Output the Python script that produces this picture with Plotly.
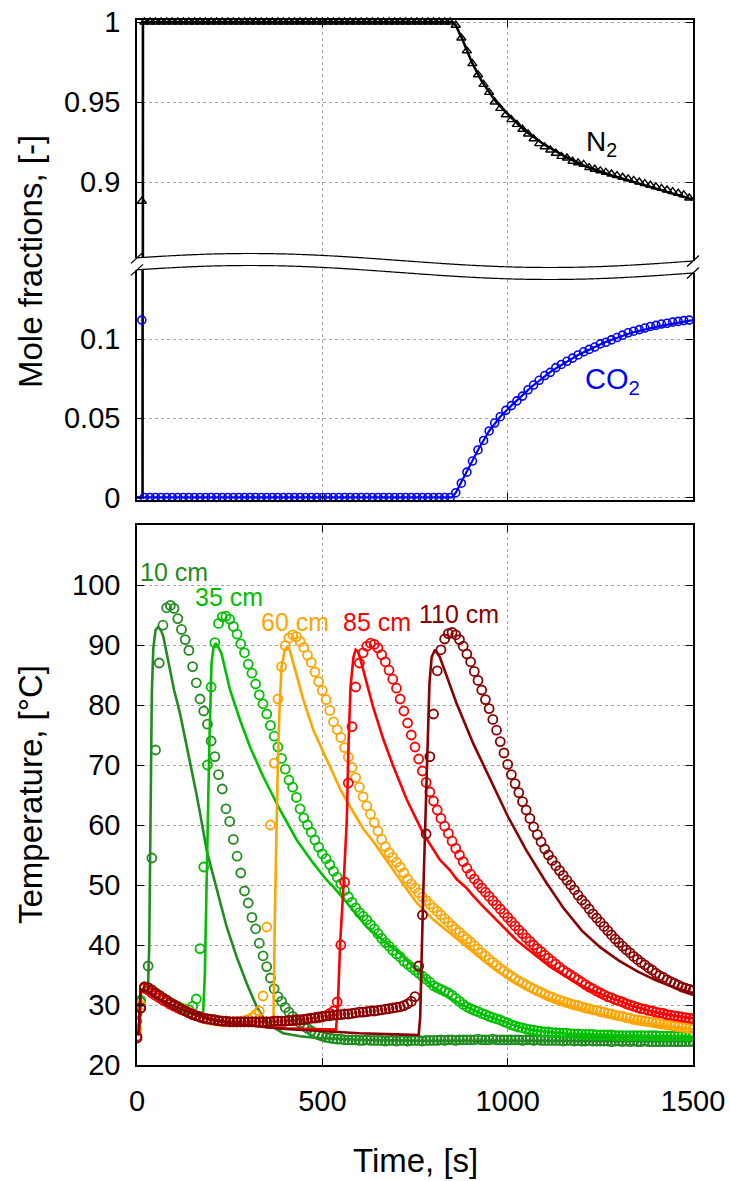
import math
import plotly.graph_objects as go

# ---------------- data ----------------
t_gas = [13, 20, 35, 50, 65, 80, 95, 110, 125, 140,
         155, 170, 185, 200, 215, 230, 245, 260, 275, 290,
         305, 320, 335, 350, 365, 380, 395, 410, 425, 440,
         455, 470, 485, 500, 515, 530, 545, 560, 575, 590,
         605, 620, 635, 650, 665, 680, 695, 710, 725, 740,
         755, 770, 785, 800, 815, 830, 845, 860, 875, 890,
         905, 920, 935, 950, 965, 980, 995, 1010, 1025, 1040,
         1055, 1070, 1085, 1100, 1115, 1130, 1145, 1160, 1175, 1190,
         1205, 1220, 1235, 1250, 1265, 1280, 1295, 1310, 1325, 1340,
         1355, 1370, 1385, 1400, 1415, 1430, 1445, 1460, 1475, 1490]

n2_exp = [0.888, 1.0, 1.0, 1.0, 1.0, 1.0, 1.0, 1.0, 1.0, 1.0,
          1.0, 1.0, 1.0, 1.0, 1.0, 1.0, 1.0, 1.0, 1.0, 1.0,
          1.0, 1.0, 1.0, 1.0, 1.0, 1.0, 1.0, 1.0, 1.0, 1.0,
          1.0, 1.0, 1.0, 1.0, 1.0, 1.0, 1.0, 1.0, 1.0, 1.0,
          1.0, 1.0, 1.0, 1.0, 1.0, 1.0, 1.0, 1.0, 1.0, 1.0,
          1.0, 1.0, 1.0, 1.0, 1.0, 1.0, 1.0, 0.998, 0.990, 0.982,
          0.974, 0.967, 0.961, 0.956, 0.950, 0.946, 0.942, 0.939, 0.936, 0.933,
          0.930, 0.927, 0.924, 0.922, 0.920, 0.918, 0.916, 0.915, 0.913, 0.912,
          0.911, 0.909, 0.908, 0.907, 0.906, 0.905, 0.904, 0.903, 0.902, 0.901,
          0.900, 0.899, 0.898, 0.897, 0.896, 0.895, 0.894, 0.893, 0.892, 0.890]

co2_exp = [0.112, 0.0, 0.0, 0.0, 0.0, 0.0, 0.0, 0.0, 0.0, 0.0,
           0.0, 0.0, 0.0, 0.0, 0.0, 0.0, 0.0, 0.0, 0.0, 0.0,
           0.0, 0.0, 0.0, 0.0, 0.0, 0.0, 0.0, 0.0, 0.0, 0.0,
           0.0, 0.0, 0.0, 0.0, 0.0, 0.0, 0.0, 0.0, 0.0, 0.0,
           0.0, 0.0, 0.0, 0.0, 0.0, 0.0, 0.0, 0.0, 0.0, 0.0,
           0.0, 0.0, 0.0, 0.0, 0.0, 0.0, 0.0, 0.003, 0.009, 0.016,
           0.023, 0.030, 0.036, 0.042, 0.047, 0.051, 0.055, 0.058, 0.061, 0.064,
           0.068, 0.071, 0.074, 0.077, 0.079, 0.082, 0.084, 0.086, 0.088, 0.090,
           0.092, 0.0935, 0.095, 0.097, 0.098, 0.0995, 0.101, 0.1025, 0.104, 0.105,
           0.106, 0.107, 0.108, 0.1087, 0.1095, 0.110, 0.1107, 0.1112, 0.1117, 0.112]

t_n2_model = [0, 15, 16, 850, 860, 880, 903, 930, 966, 1002, 1047, 1101, 1154, 1208, 1281, 1352, 1424, 1500]
n2_model = [0.0, 0.0, 1.0, 1.0, 0.998, 0.988, 0.975, 0.963, 0.951, 0.942, 0.932, 0.923, 0.916, 0.910, 0.904, 0.899, 0.894, 0.889]

t_co2_model = [0, 850, 860, 880, 900, 920, 950, 980, 1010, 1065, 1119, 1190, 1262, 1334, 1406, 1500]
co2_model = [0.0, 0.0, 0.003, 0.012, 0.021, 0.030, 0.042, 0.051, 0.058, 0.070, 0.080, 0.090, 0.098, 0.104, 0.108, 0.112]

t_exp = [0, 10, 20, 30, 40, 50, 60, 70, 80, 90,
         100, 110, 120, 130, 140, 150, 160, 170, 180, 190,
         200, 210, 220, 230, 240, 250, 260, 270, 280, 290,
         300, 310, 320, 330, 340, 350, 360, 370, 380, 390,
         400, 410, 420, 430, 440, 450, 460, 470, 480, 490,
         500, 510, 520, 530, 540, 550, 560, 570, 580, 590,
         600, 610, 620, 630, 640, 650, 660, 670, 680, 690,
         700, 710, 720, 730, 740, 750, 760, 770, 780, 790,
         800, 810, 820, 830, 840, 850, 860, 870, 880, 890,
         900, 910, 920, 930, 940, 950, 960, 970, 980, 990,
         1000, 1010, 1020, 1030, 1040, 1050, 1060, 1070, 1080, 1090,
         1100, 1110, 1120, 1130, 1140, 1150, 1160, 1170, 1180, 1190,
         1200, 1210, 1220, 1230, 1240, 1250, 1260, 1270, 1280, 1290,
         1300, 1310, 1320, 1330, 1340, 1350, 1360, 1370, 1380, 1390,
         1400, 1410, 1420, 1430, 1440, 1450, 1460, 1470, 1480, 1490,
         1500]

T10_exp = [28.5, 30.5, 33.0, 36.5, 54.5, 72.5, 87.0, 93.3, 96.2, 96.6,
           96.1, 94.4, 92.6, 90.9, 89.1, 86.4, 83.7, 81.0, 79.0, 76.8,
           74.0, 71.4, 68.4, 66.0, 62.7, 60.6, 57.6, 54.8, 52.0, 49.0,
           47.0, 44.6, 42.7, 40.3, 38.2, 36.4, 34.5, 32.7, 31.4, 30.6,
           29.6, 28.8, 28.1, 27.6, 27.0, 26.5, 26.1, 25.7, 25.3, 25.0,
           24.8, 24.6, 24.5, 24.4, 24.3, 24.3, 24.2, 24.2, 24.2, 24.2,
           24.1, 24.1, 24.2, 24.1, 24.1, 24.1, 24.1, 24.0, 24.1, 24.1,
           24.0, 24.1, 24.1, 24.0, 24.1, 24.1, 24.1, 24.0, 24.1, 24.1,
           24.1, 24.1, 24.2, 24.1, 24.2, 24.2, 24.1, 24.2, 24.2, 24.2,
           24.2, 24.2, 24.3, 24.2, 24.2, 24.2, 24.3, 24.2, 24.2, 24.2,
           24.2, 24.2, 24.2, 24.2, 24.1, 24.2, 24.2, 24.1, 24.2, 24.1,
           24.1, 24.1, 24.1, 24.1, 24.1, 24.0, 24.1, 24.1, 24.0, 24.1,
           24.0, 24.0, 24.1, 24.0, 24.0, 24.0, 24.0, 24.0, 23.9, 24.0,
           24.0, 23.9, 24.0, 23.9, 24.0, 23.9, 23.9, 24.0, 23.9, 23.9,
           23.9, 23.9, 23.9, 23.9, 23.9, 23.9, 23.9, 23.9, 23.9, 23.9,
           23.9]

T35_exp = [27.3, 30.8, 32.8, 32.6, 32.3, 32.0, 31.6, 31.2, 30.8, 30.4,
           30.1, 29.8, 29.5, 29.3, 29.2, 29.8, 31.0, 39.4, 53.0, 70.0,
           83.0, 90.4, 93.6, 94.7, 94.8, 94.3, 93.1, 91.8, 90.2, 88.7,
           86.8, 85.3, 83.5, 81.7, 80.2, 78.5, 76.6, 74.8, 73.0, 71.1,
           69.3, 67.5, 66.3, 64.6, 62.7, 61.2, 60.0, 58.8, 57.5, 56.3,
           55.2, 54.4, 53.4, 52.3, 51.3, 50.2, 49.1, 48.0, 47.1, 46.2,
           45.4, 44.8, 44.2, 43.4, 42.7, 41.9, 41.1, 40.4, 39.8, 39.1,
           38.5, 38.0, 37.3, 36.8, 36.3, 35.8, 35.3, 34.8, 34.3, 33.8,
           33.2, 32.9, 32.6, 32.3, 32.0, 31.6, 31.1, 30.6, 30.1, 29.7,
           29.4, 29.1, 28.9, 28.6, 28.4, 28.1, 27.9, 27.7, 27.5, 27.2,
           27.0, 26.7, 26.5, 26.3, 26.2, 26.0, 25.9, 25.8, 25.7, 25.6,
           25.5, 25.5, 25.4, 25.4, 25.3, 25.3, 25.3, 25.2, 25.2, 25.2,
           25.1, 25.1, 25.1, 25.1, 25.0, 25.0, 25.0, 25.0, 25.0, 24.9,
           24.9, 24.9, 24.9, 24.9, 24.9, 24.9, 24.9, 24.9, 24.9, 24.9,
           24.9, 24.8, 24.8, 24.8, 24.8, 24.8, 24.8, 24.8, 24.8, 24.8,
           24.8]

T60_exp = [26.0, 30.0, 32.8, 32.6, 32.3, 32.0, 31.6, 31.2, 30.8, 30.4,
           30.0, 29.7, 29.4, 29.1, 28.8, 28.5, 28.2, 28.0, 27.8, 27.6,
           27.5, 27.4, 27.3, 27.3, 27.2, 27.2, 27.2, 27.2, 27.3, 27.4,
           27.6, 27.9, 28.4, 29.0, 31.5, 43.0, 60.0, 70.3, 81.0, 86.4,
           89.9, 91.2, 91.7, 91.4, 90.6, 89.6, 88.3, 87.1, 85.5, 83.9,
           82.4, 80.9, 79.1, 77.2, 75.9, 74.6, 72.9, 71.3, 69.6, 67.9,
           66.3, 64.7, 63.2, 61.8, 60.4, 59.0, 57.6, 56.4, 55.4, 54.6,
           53.8, 53.0, 52.0, 51.0, 50.2, 49.5, 48.7, 48.0, 47.4, 46.8,
           46.2, 45.6, 45.0, 44.4, 43.8, 43.2, 42.6, 42.1, 41.5, 41.0,
           40.5, 39.9, 39.3, 38.7, 38.2, 37.6, 37.1, 36.6, 36.1, 35.7,
           35.2, 34.8, 34.4, 34.0, 33.7, 33.3, 33.0, 32.7, 32.4, 32.1,
           31.8, 31.5, 31.3, 31.0, 30.8, 30.6, 30.4, 30.2, 30.0, 29.9,
           29.7, 29.5, 29.4, 29.2, 29.1, 28.9, 28.8, 28.6, 28.5, 28.3,
           28.2, 28.1, 27.9, 27.8, 27.6, 27.5, 27.4, 27.3, 27.2, 27.1,
           27.0, 26.9, 26.8, 26.7, 26.6, 26.5, 26.4, 26.3, 26.2, 26.1,
           26.0]

T85_exp = [24.8, 29.5, 32.8, 32.5, 32.0, 31.6, 31.2, 30.8, 30.5, 30.1,
           29.8, 29.5, 29.2, 29.0, 28.7, 28.5, 28.2, 28.0, 27.8, 27.7,
           27.6, 27.5, 27.4, 27.3, 27.3, 27.2, 27.2, 27.2, 27.2, 27.2,
           27.2, 27.2, 27.2, 27.2, 27.2, 27.2, 27.2, 27.3, 27.3, 27.3,
           27.3, 27.4, 27.4, 27.5, 27.5, 27.6, 27.7, 27.8, 27.8, 27.9,
           28.0, 28.2, 28.6, 29.0, 30.5, 40.0, 50.5, 67.0, 76.4, 83.0,
           87.0, 88.7, 89.8, 90.3, 90.1, 89.5, 88.4, 87.2, 85.8, 84.3,
           82.8, 81.0, 79.0, 77.0, 75.0, 73.0, 71.0, 69.0, 67.1, 65.5,
           64.0, 62.5, 61.1, 59.8, 58.6, 57.3, 56.1, 55.0, 53.9, 52.8,
           51.8, 51.0, 50.2, 49.5, 48.8, 48.1, 47.4, 46.7, 46.0, 45.3,
           44.6, 43.9, 43.2, 42.5, 41.9, 41.2, 40.6, 40.0, 39.4, 38.9,
           38.3, 37.8, 37.3, 36.8, 36.3, 35.8, 35.4, 35.0, 34.6, 34.2,
           33.8, 33.4, 33.0, 32.7, 32.3, 32.0, 31.7, 31.4, 31.2, 30.9,
           30.7, 30.5, 30.2, 30.0, 29.8, 29.6, 29.4, 29.3, 29.1, 29.0,
           28.8, 28.7, 28.6, 28.4, 28.3, 28.2, 28.1, 28.0, 27.9, 27.8,
           27.7]

T110_exp = [24.5, 29.5, 33.0, 32.9, 32.5, 32.0, 31.6, 31.2, 30.8, 30.4,
            30.0, 29.7, 29.3, 29.0, 28.7, 28.4, 28.2, 28.0, 27.8, 27.7,
            27.6, 27.5, 27.4, 27.3, 27.3, 27.2, 27.2, 27.2, 27.2, 27.2,
            27.2, 27.2, 27.2, 27.2, 27.2, 27.2, 27.2, 27.3, 27.3, 27.3,
            27.3, 27.4, 27.4, 27.5, 27.5, 27.6, 27.7, 27.8, 27.9, 28.0,
            28.1, 28.2, 28.2, 28.3, 28.4, 28.4, 28.5, 28.5, 28.6, 28.7,
            28.8, 28.8, 28.9, 29.0, 29.0, 29.1, 29.2, 29.3, 29.4, 29.5,
            29.6, 29.7, 29.9, 30.2, 30.6, 31.4, 36.5, 45.0, 58.5, 71.4,
            78.5, 85.7, 89.2, 91.0, 91.9, 92.1, 91.7, 90.9, 89.8, 88.5,
            87.2, 85.6, 84.1, 82.5, 80.9, 79.4, 77.6, 75.8, 73.9, 72.0,
            70.1, 68.4, 66.9, 65.4, 63.9, 62.5, 61.1, 59.7, 58.4, 57.2,
            56.0, 55.0, 54.1, 53.2, 52.4, 51.6, 50.8, 50.0, 49.2, 48.3,
            47.5, 46.8, 46.0, 45.2, 44.5, 43.8, 43.1, 42.4, 41.7, 41.0,
            40.4, 39.8, 39.2, 38.7, 38.1, 37.6, 37.1, 36.7, 36.2, 35.8,
            35.3, 34.9, 34.6, 34.2, 33.9, 33.6, 33.3, 33.0, 32.8, 32.6,
            32.4]

t_m10 = [0, 5, 10, 20, 30, 33, 36, 40, 44, 50, 57, 65, 71, 80, 89, 100, 116, 130, 143, 160,
         170, 188, 200, 215, 242, 269, 296, 323, 350, 394, 440, 485, 600, 800, 1000, 1200, 1500]
T10_model = [25.0, 25.5, 32.5, 32.8, 33.2, 40.0, 62.0, 82.0, 89.5, 92.5, 93.0, 92.4, 91.4, 88.8, 85.8, 82.5, 78.6, 74.5, 70.3, 65.3,
             62.0, 55.8, 52.9, 49.2, 43.0, 38.0, 33.6, 29.7, 27.0, 25.3, 24.8, 24.5, 24.2, 24.0, 24.0, 24.0, 24.0]

t_m35 = [0, 5, 10, 20, 50, 100, 150, 178, 183, 188, 192, 195, 201, 206, 212, 220, 228, 251, 278, 305,
         341, 386, 431, 476, 512, 530, 575, 620, 665, 710, 755, 800, 844, 889, 934, 979, 1024, 1069, 1114, 1159,
         1204, 1300, 1400, 1500]
T35_model = [25.0, 25.5, 32.5, 32.5, 31.2, 29.8, 28.6, 28.2, 35.0, 52.0, 65.0, 73.0, 87.0, 89.4, 90.3, 89.6, 88.6, 82.5, 77.5, 73.0,
             68.0, 62.5, 57.5, 53.6, 50.8, 49.7, 46.4, 43.0, 40.7, 38.6, 35.7, 33.0, 31.2, 29.7, 28.4, 27.5, 26.5, 25.8, 25.5, 25.2,
             25.1, 24.9, 24.8, 24.7]

t_m60 = [0, 5, 10, 20, 50, 100, 150, 200, 250, 300, 350, 368, 372, 376, 379, 384, 390, 399, 405, 412,
         422, 435, 449, 476, 500, 521, 548, 566, 611, 637, 656, 692, 710, 728, 755, 800, 844, 889, 934, 979,
         1024, 1069, 1114, 1159, 1204, 1249, 1294, 1339, 1384, 1429, 1500]
T60_model = [25.0, 25.5, 32.5, 32.5, 31.2, 29.8, 28.6, 27.6, 27.0, 26.6, 26.4, 26.6, 45.0, 60.0, 67.5, 78.6, 86.4, 89.2, 89.7, 89.2,
             87.0, 84.0, 80.8, 75.8, 72.5, 69.7, 66.0, 64.0, 59.3, 57.3, 55.6, 52.4, 50.8, 49.3, 47.0, 44.2, 42.0, 39.7, 37.4, 35.3,
             33.7, 32.0, 31.0, 30.0, 29.2, 28.4, 27.8, 27.2, 26.8, 26.4, 25.9]

t_m85 = [0, 5, 10, 20, 50, 100, 150, 200, 250, 300, 350, 400, 450, 500, 537, 542, 548, 557, 566, 570,
         576, 584, 590, 596, 602, 620, 637, 665, 692, 728, 772, 817, 844, 862, 889, 907, 934, 979, 1024, 1069,
         1114, 1159, 1204, 1249, 1294, 1339, 1384, 1429, 1500]
T85_model = [25.0, 25.5, 32.5, 32.5, 31.2, 29.8, 28.6, 27.6, 27.0, 26.6, 26.3, 26.1, 26.0, 25.9, 25.9, 30.0, 40.3, 49.7, 60.8, 72.0,
             83.0, 88.0, 89.2, 88.9, 87.8, 83.6, 79.7, 74.2, 69.7, 64.2, 58.6, 54.2, 52.5, 51.0, 49.5, 48.2, 46.4, 43.6, 40.8, 38.6,
             36.4, 34.7, 33.1, 31.9, 30.8, 29.8, 29.0, 28.4, 27.8]

t_m110 = [0, 5, 10, 20, 50, 100, 150, 200, 250, 300, 350, 400, 500, 600, 700, 760, 764, 768, 772, 777,
          783, 789, 795, 804, 817, 836, 862, 907, 952, 1000, 1050, 1100, 1150, 1200, 1250, 1300, 1350, 1400, 1450, 1500]
T110_model = [25.0, 25.5, 32.5, 32.5, 31.2, 29.8, 28.6, 27.6, 27.0, 26.6, 26.3, 26.0, 25.6, 25.3, 25.1, 25.0, 28.0, 40.0, 48.0, 58.6,
              72.5, 83.6, 88.0, 89.2, 88.0, 84.7, 80.3, 73.6, 67.8, 61.5, 55.8, 50.8, 46.2, 42.4, 39.6, 37.4, 35.6, 34.1, 32.9, 32.0]

labels = ["10 cm", "35 cm", "60 cm", "85 cm", "110 cm"]
colors = ["#228B22", "#00C000", "#FFA500", "#FF0000", "#8B0000"]

# ---------------- layout geometry ----------------
FONT = "Liberation Sans, Arial, Helvetica, sans-serif"
W, H = 730, 1181
ML, MR, MT, MB = 137, 37, 20, 116
PW = W - ML - MR
PH = H - MT - MB


def fx(px):  # window pixel -> paper fraction
    return (px - ML) / PW


def fy(py):
    return (H - MB - py) / PH


fig = go.Figure()

# gas panels
fig.add_trace(go.Scatter(x=t_n2_model, y=n2_model, mode="lines", line=dict(color="black", width=2.6),
                         xaxis="x", yaxis="y", showlegend=False))
fig.add_trace(go.Scatter(x=t_gas, y=n2_exp, mode="markers", cliponaxis=False,
                         marker=dict(symbol="triangle-up-open", size=8, color="black", line=dict(width=1.4, color="black")),
                         xaxis="x", yaxis="y", showlegend=False))
fig.add_trace(go.Scatter(x=t_n2_model, y=n2_model, mode="lines", line=dict(color="black", width=2.6),
                         xaxis="x2", yaxis="y2", showlegend=False))
fig.add_trace(go.Scatter(x=t_co2_model, y=co2_model, mode="lines", line=dict(color="#0000FF", width=2.2),
                         xaxis="x2", yaxis="y2", showlegend=False))
fig.add_trace(go.Scatter(x=t_gas, y=co2_exp, mode="markers", cliponaxis=False,
                         marker=dict(symbol="circle-open", size=8, color="#0000FF", line=dict(width=1.6, color="#0000FF")),
                         xaxis="x2", yaxis="y2", showlegend=False))

# temperature panel
exp_series = [T10_exp, T35_exp, T60_exp, T85_exp, T110_exp]
mod_t = [t_m10, t_m35, t_m60, t_m85, t_m110]
mod_series = [T10_model, T35_model, T60_model, T85_model, T110_model]
for ys, mt, my, c in zip(exp_series, mod_t, mod_series, colors):
    fig.add_trace(go.Scatter(x=t_exp, y=ys, mode="markers",
                             marker=dict(symbol="circle-open", size=9, color=c, line=dict(width=1.8, color=c)),
                             xaxis="x3", yaxis="y3", showlegend=False))
    fig.add_trace(go.Scatter(x=mt, y=my, mode="lines", line=dict(color=c, width=2.6),
                             xaxis="x3", yaxis="y3", showlegend=False))

axis_common = dict(showline=True, linecolor="black", linewidth=1.5, ticks="inside",
                   ticklen=7, tickwidth=1.2, tickcolor="black", showgrid=True, gridcolor="#a8a8a8",
                   griddash="dot", gridwidth=1, zeroline=False, automargin=False,
                   ticklabeloverflow="allow",
                   tickfont=dict(family=FONT, size=29, color="black"))

xt = dict(range=[0, 1500], tickvals=[0, 500, 1000, 1500], ticktext=["0", "500", "1000", "1500"])

fig.update_layout(
    width=W, height=H,
    margin=dict(l=ML, r=MR, t=MT, b=MB, autoexpand=False),
    paper_bgcolor="white", plot_bgcolor="white",
    font=dict(family=FONT, size=29, color="black"),
    hovermode=False,
    xaxis=dict(**axis_common, **xt, anchor="y", side="top", mirror=False, showticklabels=False),
    xaxis2=dict(**axis_common, **xt, anchor="y2", side="bottom", mirror=False, showticklabels=False),
    xaxis3=dict(**axis_common, **xt, anchor="y3", mirror="ticks", showticklabels=True, ticklabelstandoff=9),
    yaxis=dict(**axis_common, anchor="x", mirror="ticks", domain=[fy(262), 1.0], range=[0.85, 1.00125],
               tickvals=[0.9, 0.95, 1.0], ticktext=["0.9", "0.95", "1"], ticklabelstandoff=9),
    yaxis2=dict(**axis_common, anchor="x2", mirror="ticks", domain=[fy(500), fy(262)], range=[-0.0016, 0.1487],
                tickvals=[0, 0.05, 0.1], ticktext=["0", "0.05", "0.1"], ticklabelstandoff=9),
    yaxis3=dict(**axis_common, anchor="x3", mirror="ticks", domain=[0.0, fy(525)], range=[20, 110],
                tickvals=[20, 30, 40, 50, 60, 70, 80, 90, 100],
                ticktext=["20", "30", "40", "50", "60", "70", "80", "90", "100"], ticklabelstandoff=9),
)

# ---------------- axis break decoration ----------------
def wave(px):
    return 260.5 - 7.0 * math.cos(2 * math.pi * (px - 250) / 600)


GAP = 12
xs_fill = [131 + i * 2 for i in range(0, 285)]
top_pts = [(fx(p), fy(wave(p))) for p in xs_fill]
bot_pts = [(fx(p), fy(wave(p) + GAP)) for p in reversed(xs_fill)]
band_path = "M " + " L ".join(f"{a:.5f},{b:.5f}" for a, b in top_pts + bot_pts) + " Z"

xs_line = [137 + i * 2 for i in range(0, 279)]
top_line = "M " + " L ".join(f"{fx(p):.5f},{fy(wave(p)):.5f}" for p in xs_line)
bot_line = "M " + " L ".join(f"{fx(p):.5f},{fy(wave(p) + GAP):.5f}" for p in xs_line)

shapes = [
    dict(type="path", path=band_path, xref="paper", yref="paper", fillcolor="white",
         line=dict(width=0), layer="above"),
    dict(type="path", path=top_line, xref="paper", yref="paper", fillcolor="rgba(0,0,0,0)",
         line=dict(color="black", width=1.2), layer="above"),
    dict(type="path", path=bot_line, xref="paper", yref="paper", fillcolor="rgba(0,0,0,0)",
         line=dict(color="black", width=1.2), layer="above"),
]
for px in (137, 693):
    for off in (0, GAP):
        yc = wave(px) + off
        shapes.append(dict(type="line", xref="paper", yref="paper",
                           x0=fx(px - 6), y0=fy(yc + 5.5), x1=fx(px + 6), y1=fy(yc - 5.5),
                           line=dict(color="black", width=1.3), layer="above"))
fig.update_layout(shapes=shapes)

# ---------------- text ----------------
ann = []
ann.append(dict(text="Mole fractions, [-]", x=fx(30), y=fy(262), textangle=-90,
                font=dict(family=FONT, size=33, color="black")))
ann.append(dict(text="Temperature, [°C]", x=fx(30), y=fy(795), textangle=-90,
                font=dict(family=FONT, size=33, color="black")))
ann.append(dict(text="Time, [s]", x=fx(415), y=fy(1160),
                font=dict(family=FONT, size=33, color="black")))
ann.append(dict(text="N<sub>2</sub>", x=fx(601), y=fy(143),
                font=dict(family=FONT, size=28, color="black")))
ann.append(dict(text="CO<sub>2</sub>", x=fx(612), y=fy(381),
                font=dict(family=FONT, size=29, color="#0000FF")))
label_pos = [(173.5, 572), (229, 596.5), (295, 621.5), (377, 622), (459, 614)]
for lab, c, (px, py) in zip(labels, colors, label_pos):
    ann.append(dict(text=lab, x=fx(px), y=fy(py), font=dict(family=FONT, size=25, color=c)))
for a in ann:
    a.update(xref="paper", yref="paper", showarrow=False, xanchor="center", yanchor="middle")
fig.update_layout(annotations=ann)

# the page body has a default 8 px margin; remove it so the figure fills the window exactly
fig.write_html("out.html", config={"displayModeBar": False},
               post_script="document.body.style.margin='0';document.body.style.overflow='hidden';")
